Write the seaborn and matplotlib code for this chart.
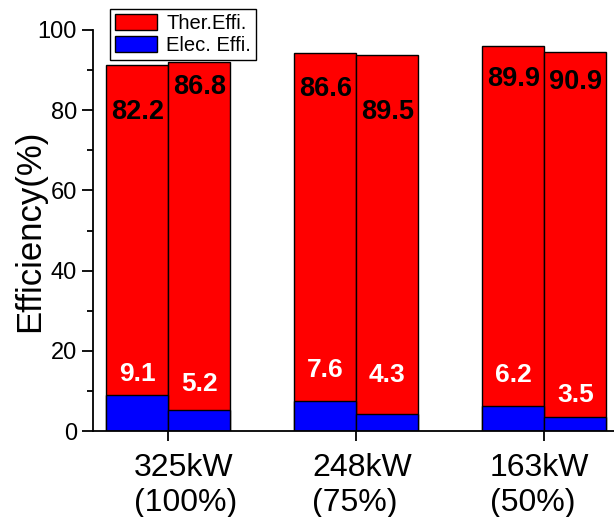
import matplotlib
matplotlib.use("Agg")
import matplotlib.pyplot as plt
import matplotlib.transforms as mtrans
from matplotlib.patches import Patch
from matplotlib.ticker import MultipleLocator
import seaborn as sns
import pandas as pd
import numpy as np

# ---- data ----
groups = ["325kW\n(100%)", "248kW\n(75%)", "163kW\n(50%)"]
variants = ["A", "B"]
elec = [9.1, 5.2, 7.6, 4.3, 6.2, 3.5]
ther = [82.2, 86.8, 86.6, 89.5, 89.9, 90.9]
series_names = ["Ther.Effi.", "Elec. Effi."]
yticks = [0, 20, 40, 60, 80, 100]

# ---- layout (label placement in data units, label offsets in px) ----
ther_label_y = [79.5, 85.8, 85.3, 79.5, 87.8, 87.0]
elec_label_y = [14.3, 11.8, 15.2, 14.0, 14.0, 9.0]
xlabel_shift_px = [17, 6, -5]

df = pd.DataFrame({
    "group": np.repeat(groups, 2),
    "variant": variants * 3,
    "elec": elec,
    "ther": ther,
})
df["total"] = df["elec"] + df["ther"]

sns.set_style("ticks")
plt.rcParams["font.family"] = ["Liberation Sans", "DejaVu Sans"]
plt.rcParams.update({"text.color": "black", "axes.labelcolor": "black",
                     "xtick.color": "black", "ytick.color": "black",
                     "axes.edgecolor": "black"})

fig = plt.figure(figsize=(6.14, 5.17), dpi=100)
ax = fig.add_axes([93 / 614, 86 / 517, 521 / 614, 401 / 517])

common = dict(x="group", hue="variant", order=groups, hue_order=variants,
              width=0.66, gap=0, edgecolor="black", linewidth=1.0, ax=ax,
              legend=False, errorbar=None, saturation=1)
sns.barplot(data=df, y="total", palette=["#FF0000", "#FF0000"], **common)
sns.barplot(data=df, y="elec", palette=["#0000FF", "#0000FF"], **common)

# value labels
conts = ax.containers
for j in range(2):
    for i, (rb, bb) in enumerate(zip(conts[j], conts[2 + j])):
        idx = 2 * i + j
        xc = rb.get_x() + rb.get_width() / 2
        ax.text(xc, ther_label_y[idx], f"{ther[idx]:.1f}", ha="center", va="center",
                fontsize=19.5, fontweight="bold", color="black")
        ax.text(xc, elec_label_y[idx], f"{elec[idx]:.1f}", ha="center", va="center",
                fontsize=19, fontweight="bold", color="white")

ax.set_ylim(0, 100)
ax.set_xlim(-0.40, 2.37)
ax.set_yticks(yticks)
ax.yaxis.set_minor_locator(MultipleLocator(10))
ax.tick_params(axis="y", which="major", length=8, width=1.3, direction="out",
               labelsize=17, pad=3.5, color="black", labelcolor="black")
ax.tick_params(axis="y", which="minor", length=4.5, width=1.3, direction="out", color="black")
ax.tick_params(axis="x", which="major", length=7, width=1.3, direction="out",
               labelsize=23, pad=9, color="black", labelcolor="black")
ax.set_xlabel("")
ax.set_ylabel("Efficiency(%)", fontsize=25, labelpad=-6, color="black")

for lbl, dx in zip(ax.get_xticklabels(), xlabel_shift_px):
    lbl.set_multialignment("left")
    lbl.set_transform(lbl.get_transform() + mtrans.ScaledTranslation(dx / 100, 0, fig.dpi_scale_trans))

for s in ["top", "right"]:
    ax.spines[s].set_visible(False)
for s in ["left", "bottom"]:
    ax.spines[s].set_linewidth(1.3)
    ax.spines[s].set_color("black")

handles = [Patch(facecolor="#FF0000", edgecolor="black", linewidth=1),
           Patch(facecolor="#0000FF", edgecolor="black", linewidth=1)]
leg = fig.legend(handles=handles, labels=series_names, loc="upper left",
                 bbox_to_anchor=(110 / 614, 1 - 9 / 517), fontsize=14.5,
                 frameon=True, fancybox=False, edgecolor="black", framealpha=1,
                 borderpad=0.25, labelspacing=0.15, handlelength=2.1,
                 handleheight=0.8, handletextpad=0.45, borderaxespad=0,
                 labelcolor="black")
leg.get_frame().set_linewidth(1)

fig.savefig("out.png", dpi=100)
